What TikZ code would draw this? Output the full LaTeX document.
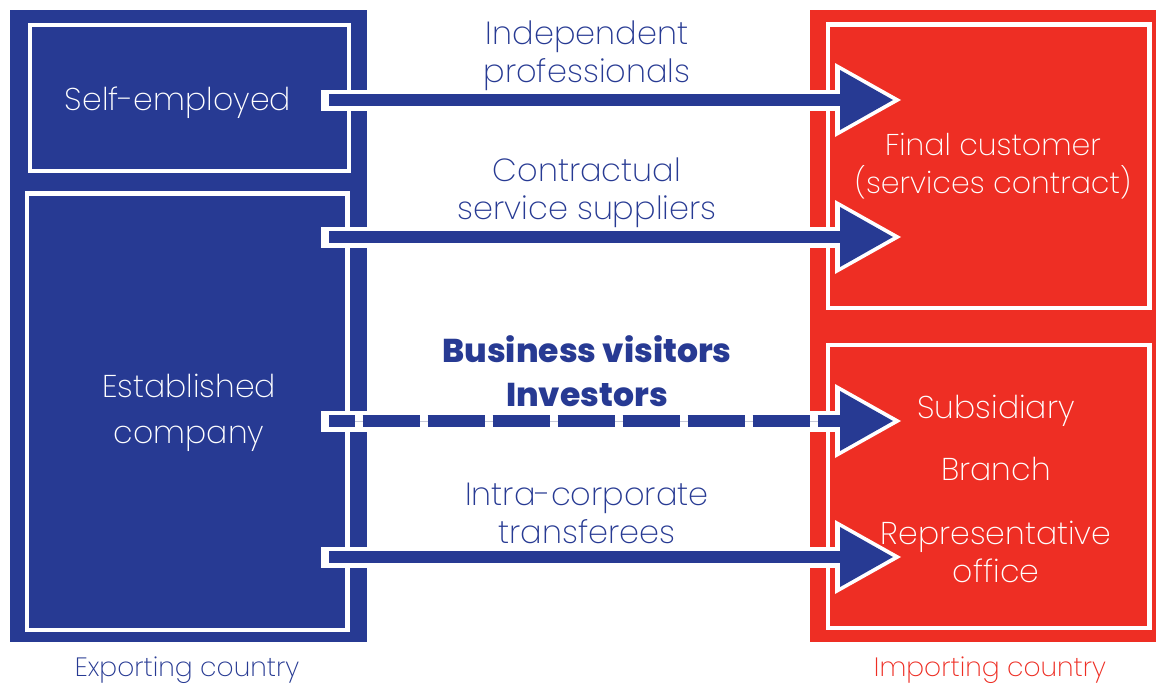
\documentclass[tikz,border=0pt]{standalone}
\usepackage{fontspec}
\setmainfont{Poppins}[UprightFont=* ExtraLight, BoldFont=* ExtraBold]
\usetikzlibrary{arrows.meta}
\definecolor{eblue}{HTML}{273A93}
\definecolor{ired}{HTML}{EE2E24}
\definecolor{dgray}{HTML}{C4C7D6}
\tikzset{
  panel/.style={inner sep=0pt, outer sep=0pt, anchor=north west},
  inbox/.style={draw=white, line width=4.5pt, inner sep=0pt, outer sep=0pt, anchor=north west},
  outline/.style={white, line width=21pt, shorten <=-8pt, shorten >=-8pt,
    -{Triangle[length=66pt, width=74pt, line width=0pt]}},
  shaft/.style={eblue, line width=12pt, -{Triangle[length=53pt, width=60pt, line width=0pt]}},
  lbl/.style={text=eblue, align=center, inner sep=0pt, font=\fontsize{32}{38}\selectfont},
  wlbl/.style={text=white, align=center, inner sep=0pt, font=\fontsize{31.5}{38}\selectfont},
  blbl/.style={text=eblue, align=center, inner sep=0pt, font=\fontsize{33}{44}\selectfont\bfseries},
  clbl/.style={align=center, inner sep=0pt, font=\fontsize{26.5}{30}\selectfont},
}
\begin{document}
\begin{tikzpicture}[x=1pt, y=-1pt]
\useasboundingbox[fill=white] (0,0) rectangle (1158,685);
% panels
\node[panel, fill=eblue, minimum width=357pt, minimum height=632pt] (exp) at (10,10) {};
\node[panel, fill=ired, minimum width=346pt, minimum height=632pt] (imp) at (810,10) {};
% inner boxes
\node[inbox, minimum width=319pt, minimum height=146pt] (se) at (30,25) {};
\node[inbox, minimum width=320.5pt, minimum height=436.5pt] (ec) at (27,193.5) {};
\node[inbox, minimum width=321.5pt, minimum height=283.5pt] (fc) at (828,24.5) {};
\node[inbox, minimum width=321.5pt, minimum height=283pt] (sb) at (828,345) {};
% arrow end points
\coordinate (a1s) at (329,100);  \coordinate (a1e) at (893,100);
\coordinate (a2s) at (329,237);  \coordinate (a2e) at (893,237);
\coordinate (a3s) at (329,421);  \coordinate (a3e) at (893,421);
\coordinate (a4s) at (329,557);  \coordinate (a4e) at (893,557);
% solid arrows
\draw[outline] (a1s) -- (a1e);  \draw[shaft] (a1s) -- (a1e);
\draw[outline] (a2s) -- (a2e);  \draw[shaft] (a2s) -- (a2e);
\draw[outline] (a4s) -- (a4e);  \draw[shaft] (a4s) -- (a4e);
% dashed arrow
\draw[outline] (a3s) -- (a3e);
\draw[dgray, line width=1pt, shorten >=53pt] (a3s) -- (a3e);
\draw[eblue, line width=12pt, dash pattern=on 57.4pt off 7.6pt, dash phase=31.4pt,
  -{Triangle[length=53pt, width=60pt, line width=0pt]}] (a3s) -- (a3e);
% box texts
\node[wlbl] (tse) at (178,103) {Self-employed};
\node[wlbl, font=\fontsize{31.5}{46}\selectfont] (tec) at (189,413) {Established\\company};
\node[wlbl, font=\fontsize{30}{38}\selectfont] (tfc) at (993,166) {Final customer\\(services contract)};
\node[wlbl] (tsu) at (996,411) {Subsidiary};
\node[wlbl] (tbr) at (996,469) {Branch};
\node[wlbl] (tro) at (996,552) {Representative\\office};
% arrow labels
\node[lbl] (l1) at (587,56) {Independent\\professionals};
\node[lbl] (l2) at (587,193) {Contractual\\service suppliers};
\node[blbl] (l3) at (587,371) {Business visitors\\Investors};
\node[lbl] (l4) at (587,513) {Intra-corporate\\transferees};
% country labels
\node[clbl, text=eblue] (cexp) at (187,670) {Exporting country};
\node[clbl, text=ired] (cimp) at (990,670) {Importing country};
\end{tikzpicture}
\end{document}
